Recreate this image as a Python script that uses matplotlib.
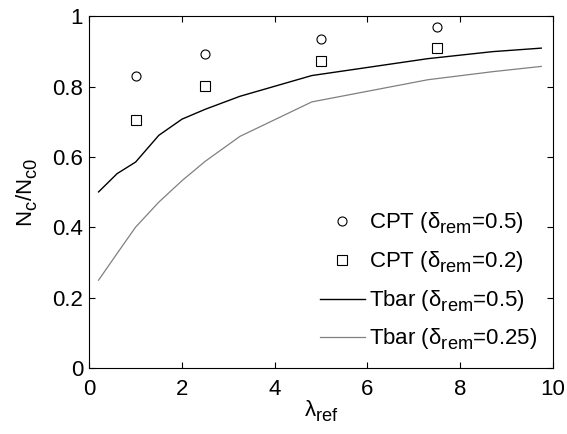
import matplotlib
matplotlib.use('Agg')
import matplotlib.pyplot as plt
import matplotlib._mathtext as mt

# subscripts in the original are close to full size and sit lower
mt.SHRINK_FACTOR = 0.82
mt.FontConstantsBase.sub1 = 0.45
mt.FontConstantsBase.sub2 = 0.6

plt.rcParams['font.family'] = ['Liberation Sans', 'DejaVu Sans']
plt.rcParams['mathtext.fontset'] = 'custom'
plt.rcParams['mathtext.rm'] = 'Liberation Sans'
plt.rcParams['mathtext.it'] = 'Liberation Sans'
plt.rcParams['mathtext.default'] = 'regular'

# CPT points
cpt_lam = [1.0, 2.5, 5.0, 7.5]
cpt_05 = [0.83, 0.894, 0.937, 0.969]
cpt_02 = [0.705, 0.803, 0.872, 0.910]

# Tbar curves
tbar_lam = [0.2, 0.6, 1.0, 1.5, 2.0, 2.5, 3.25, 4.8, 7.3, 8.7, 9.75]
tbar_05 = [0.501, 0.553, 0.586, 0.662, 0.708, 0.736, 0.773, 0.832, 0.880, 0.900, 0.910]
tbar_025 = [0.250, 0.326, 0.401, 0.472, 0.533, 0.588, 0.659, 0.757, 0.820, 0.843, 0.858]

fs = 16

fig = plt.figure(figsize=(5.67, 4.34), dpi=100)
ax = fig.add_axes([0.1575, 0.152, 0.8175, 0.81])

ax.plot(cpt_lam, cpt_05, 'o', mfc='none', mec='black', ms=6.5, mew=0.8,
        label=r'CPT ($\delta_{rem}$=0.5)')
ax.plot(cpt_lam, cpt_02, 's', mfc='none', mec='black', ms=6.5, mew=0.8,
        label=r'CPT ($\delta_{rem}$=0.2)')
ax.plot(tbar_lam, tbar_05, '-', color='black', lw=1.0,
        label=r'Tbar ($\delta_{rem}$=0.5)')
ax.plot(tbar_lam, tbar_025, '-', color='#808080', lw=0.9,
        label=r'Tbar ($\delta_{rem}$=0.25)')

ax.set_xlim(0, 10)
ax.set_ylim(0, 1)
ax.set_xticks([0, 2, 4, 6, 8, 10])
ax.set_yticks([0, 0.2, 0.4, 0.6, 0.8, 1])
ax.set_yticklabels(['0', '0.2', '0.4', '0.6', '0.8', '1'])
ax.tick_params(direction='in', top=True, right=True, labelsize=fs, length=4, width=0.8)
ax.tick_params(axis='x', pad=8)
ax.tick_params(axis='y', pad=4.5)
for s in ax.spines.values():
    s.set_linewidth(0.8)

ax.set_xlabel(r'$\lambda_{ref}$', fontsize=fs, labelpad=-1)
ax.set_ylabel(r'$N_c/N_{c0}$', fontsize=fs, labelpad=9)

ax.legend(loc='lower right', frameon=False, fontsize=fs, handlelength=2.0,
          labelspacing=0.6, borderaxespad=0.3, handletextpad=0.2)

fig.savefig('out.png', dpi=100)
